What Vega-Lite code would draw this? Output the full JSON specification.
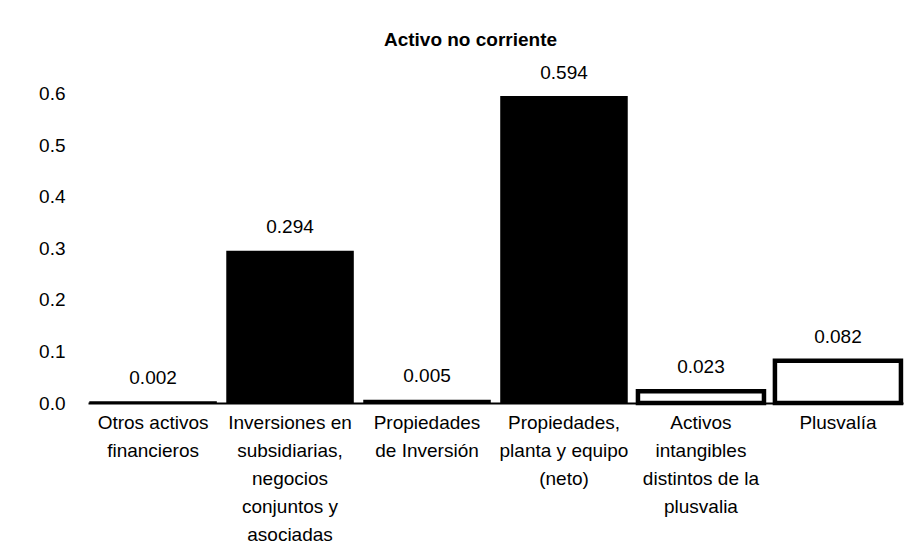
{
  "$schema": "https://vega.github.io/schema/vega-lite/v6.json",
  "width": 815,
  "height": 335,
  "autosize": {"type": "none"},
  "padding": {"left": 88, "top": 68, "right": 17, "bottom": 157},
  "background": "white",
  "title": {
    "text": "Activo no corriente",
    "font": "Liberation Sans",
    "fontSize": 19,
    "fontWeight": "bold",
    "color": "black",
    "anchor": "middle",
    "frame": "group",
    "dx": -25,
    "offset": 14
  },
  "config": {
    "view": {"stroke": null},
    "font": "Liberation Sans"
  },
  "data": {
    "values": [
      {"categoria": "Otros activos|financieros", "valor": 0.002},
      {"categoria": "Inversiones en|subsidiarias,|negocios|conjuntos y|asociadas", "valor": 0.294},
      {"categoria": "Propiedades|de Inversión", "valor": 0.005},
      {"categoria": "Propiedades,|planta y equipo|(neto)", "valor": 0.594},
      {"categoria": "Activos|intangibles|distintos de la|plusvalia", "valor": 0.023},
      {"categoria": "Plusvalía", "valor": 0.082}
    ]
  },
  "encoding": {
    "x": {
      "field": "categoria",
      "type": "nominal",
      "sort": null,
      "scale": {"paddingInner": 0.08, "paddingOuter": 0.015},
      "axis": {
        "title": null,
        "labelAngle": 0,
        "labelExpr": "split(datum.label, '|')",
        "labelFont": "Liberation Sans",
        "labelFontSize": 19,
        "labelColor": "black",
        "labelLineHeight": 28,
        "labelPadding": 10,
        "labelLimit": 300,
        "ticks": false,
        "domainColor": "black",
        "domainWidth": 2,
        "grid": false
      }
    },
    "y": {
      "field": "valor",
      "type": "quantitative",
      "scale": {"domain": [0, 0.65], "nice": false},
      "axis": {
        "title": null,
        "values": [0, 0.1, 0.2, 0.3, 0.4, 0.5, 0.6],
        "format": ".1f",
        "labelFont": "Liberation Sans",
        "labelFontSize": 19,
        "labelColor": "black",
        "labelPadding": 23,
        "ticks": false,
        "domain": false,
        "grid": false
      }
    }
  },
  "layer": [
    {
      "mark": {"type": "bar", "stroke": "black"},
      "encoding": {
        "fill": {
          "field": "categoria",
          "type": "nominal",
          "scale": {
            "domain": [
              "Otros activos|financieros",
              "Inversiones en|subsidiarias,|negocios|conjuntos y|asociadas",
              "Propiedades|de Inversión",
              "Propiedades,|planta y equipo|(neto)",
              "Activos|intangibles|distintos de la|plusvalia",
              "Plusvalía"
            ],
            "range": ["black", "black", "black", "black", "white", "white"]
          },
          "legend": null
        },
        "strokeWidth": {
          "condition": {
            "test": "datum.categoria === 'Plusvalía' || datum.categoria === 'Activos|intangibles|distintos de la|plusvalia'",
            "value": 4.5
          },
          "value": 1.5
        }
      }
    },
    {
      "mark": {
        "type": "text",
        "baseline": "alphabetic",
        "dy": -18,
        "font": "Liberation Sans",
        "fontSize": 19,
        "color": "black"
      },
      "encoding": {
        "text": {"field": "valor", "type": "quantitative", "format": ".3f"}
      }
    }
  ]
}
